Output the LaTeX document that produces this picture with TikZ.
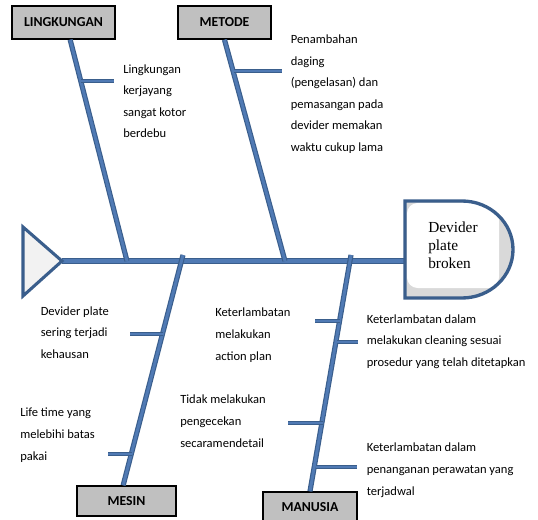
\documentclass[tikz,border=0pt]{standalone}
\usepackage{fontspec}
\setmainfont{Carlito}
\newfontfamily\headfont{Liberation Serif}
\usepackage{xcolor}
\usepackage{tikz}
\usetikzlibrary{positioning,calc}
\definecolor{boneDark}{RGB}{58,94,140}
\definecolor{boneLight}{RGB}{80,122,180}
\definecolor{boxGray}{RGB}{192,192,192}
\definecolor{tailGray}{RGB}{242,242,242}
\definecolor{headShade}{RGB}{217,217,217}

\begin{document}
\begin{tikzpicture}[
    x=0.75pt, y=-0.75pt,
    spine/.style={draw=boneLight, line width=2.8pt, preaction={draw=boneDark, line width=4.8pt}},
    bone/.style={draw=boneLight, line width=2.2pt, preaction={draw=boneDark, line width=3.9pt}},
    twig/.style={draw=boneLight, line width=1.8pt, preaction={draw=boneDark, line width=3.4pt}},
    category/.style={draw=black, line width=1.1pt, fill=boxGray, inner sep=0pt, font=\fontsize{10.3}{12}\selectfont\bfseries},
    cause/.style={anchor=base west, align=left, inner sep=0pt, font=\fontsize{9.4}{16.2}\selectfont}
]
\useasboundingbox (0,0) rectangle (538,520);

% spine and ends
\coordinate (tail) at (62,261);
\coordinate (headL) at (405,261);
\draw[spine] (tail) -- (headL);

\node[category, minimum width=77.3pt, minimum height=24.8pt] (lingk) at (63.5,22.5) {LINGKUNGAN};
\node[category, minimum width=69.8pt, minimum height=24.8pt] (metode) at (224.5,22.5) {METODE};
\node[category, minimum width=74.3pt, minimum height=22.5pt] (mesin) at (126.5,501) {MESIN};
\node[category, minimum width=70.5pt, minimum height=22.5pt] (manusia) at (310,507) {MANUSIA};

\coordinate (lingkFoot) at (127,261);
\coordinate (metodeFoot) at (285,261);
\coordinate (mesinFoot) at (183,255);
\coordinate (manusiaFoot) at (351,255);

\draw[bone] ([xshift=5pt]lingk.south) -- (lingkFoot);
\draw[bone] (metode.south) -- (metodeFoot);
\draw[bone] ([xshift=-2.5pt]mesin.north) -- (mesinFoot);
\draw[bone] (manusia.north) -- (manusiaFoot);

% sub causes
\coordinate (l1) at (81,81);   \coordinate (l1e) at (114,81);
\coordinate (t1) at (234,71);  \coordinate (t1e) at (282,71);
\coordinate (s1) at (163,334); \coordinate (s1e) at (130,334);
\coordinate (s2) at (132,454); \coordinate (s2e) at (108,454);
\coordinate (m1) at (340,321); \coordinate (m1e) at (315,321);
\coordinate (m2) at (337,342); \coordinate (m2e) at (358,342);
\coordinate (m3) at (323,423); \coordinate (m3e) at (288,423);
\coordinate (m4) at (316,467); \coordinate (m4e) at (357,467);
\foreach \a in {l1,t1,s1,s2,m1,m2,m3,m4}
    \draw[twig] (\a) -- (\a e);

% tail and head
\draw[boneDark, line width=2.3pt, fill=tailGray] (23,227) -- (tail) -- (23,296) -- cycle;
\fill[headShade] (405,201) -- (462,201) arc[start angle=-90, end angle=90, x radius=51, y radius=48.5] -- (405,298) -- cycle;
\fill[white, rounded corners=8pt] (407,203) rectangle (499,288);
\draw[boneDark, line width=2.5pt] (405,201) -- (462,201) arc[start angle=-90, end angle=90, x radius=51, y radius=48.5] -- (405,298) -- cycle;
\node[anchor=base west, align=left, inner sep=0pt, font=\headfont\fontsize{11.5}{13.5}\selectfont] (problem) at (428,268.5) {Devider\\plate\\broken};

% last line baselines
\node[cause] (c1) at (123,138) {Lingkungan\\kerjayang\\sangat kotor\\berdebu};
\node[cause] (c2) at (290.5,151.5) {Penambahan\\daging\\(pengelasan) dan\\pemasangan pada\\devider memakan\\waktu cukup lama};
\node[cause] (c3) at (40.5,358.5) {Devider plate\\sering terjadi\\kehausan};
\node[cause] (c4) at (215,360) {Keterlambatan\\melakukan\\action plan};
\node[cause] (c5) at (366.5,366.5) {Keterlambatan dalam\\melakukan cleaning sesuai\\prosedur yang telah ditetapkan};
\node[cause] (c6) at (180,447) {Tidak melakukan\\pengecekan\\secaramendetail};
\node[cause] (c7) at (20,460) {Life time yang\\melebihi batas\\pakai};
\node[cause] (c8) at (366.5,495) {Keterlambatan dalam\\penanganan perawatan yang\\terjadwal};
\end{tikzpicture}
\end{document}
